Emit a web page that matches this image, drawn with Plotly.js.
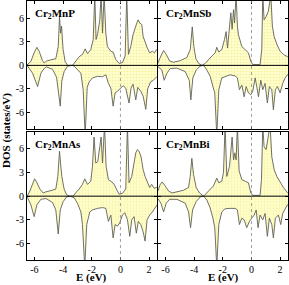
<!DOCTYPE html>
<html><head><meta charset="utf-8">
<script src="https://cdn.plot.ly/plotly-3.0.1.min.js"></script>
<style>html,body{margin:0;padding:0;background:#fff}#c{width:289px;height:285px}</style>
</head><body><div id="c"></div>
<script>
const panelNames = ["Cr<sub>2</sub>MnP","Cr<sub>2</sub>MnSb","Cr<sub>2</sub>MnAs","Cr<sub>2</sub>MnBi"];
const xTickVals = [-6,-4,-2,0,2];
const xTickText = ["-6","-4","-2","0","2"];
const yTickVals = [-6,-3,0,3,6];
const yTickText = ["-6","-3","0","3","6"];

// Cr2MnP
const E_P_up = [-6.55,-6.48,-6.25,-6.02,-5.83,-5.67,-5.44,-5.32,-5.16,-4.85,-4.51,-4.34,-4.25,-4.18,-4.11,-4.00,-3.86,-3.69,-3.34,-3.11,-2.88,-2.65,-2.46,-2.30,-2.07,-1.90,-1.79,-1.70,-1.58,-1.44,-1.35,-1.25,-1.14,-1.02,-0.91,-0.67,-0.51,-0.33,-0.09,0.14,0.33,0.44,0.56,0.72,0.88,1.07,1.23,1.35,1.49,1.58,1.72,1.88,2.04,2.23,2.37,2.51,2.6];
const D_P_up = [0,0.1,0.5,1.6,2.3,1.8,0.6,0.3,0.55,0.7,0.85,2.4,6.2,4.1,5.0,2.0,0.5,0,0,0.55,1.1,1.4,2.1,1.5,2.0,3.3,9,3.3,4.1,5.8,9,4.1,9,4.1,2.4,1.8,1.7,0.75,0.25,0.35,1.2,9,1.4,2.4,3.9,5.0,5.8,5.4,5.2,3.7,2.9,2.2,1.6,1.8,1.6,2.0,1.8];
const E_P_dn = [-6.55,-6.48,-6.13,-5.78,-5.55,-5.32,-5.16,-4.74,-4.46,-4.20,-4.09,-3.93,-3.69,-3.34,-3.23,-3.00,-2.76,-2.60,-2.46,-2.32,-2.18,-1.95,-1.60,-1.25,-1.02,-0.84,-0.67,-0.51,-0.37,-0.21,0.02,0.19,0.37,0.60,0.74,0.88,1.07,1.21,1.42,1.58,1.77,1.90,2.11,2.30,2.51,2.6];
const D_P_dn = [0,-0.1,-1.0,-2.7,-1.0,-0.4,-0.2,-0.5,-1.5,-5.2,-2.0,-0.8,-0.1,0,-0.1,-0.5,-1.0,-3.1,-9,-2.8,-2.1,-1.6,-1.4,-1.45,-1.2,-2.3,-2.9,-5.2,-3.5,-3.3,-2.9,-2.6,-2.9,-4.8,-2.9,-2.4,-4.4,-2.8,-3.3,-3.9,-5.6,-3.0,-2.1,-1.9,-1.5,-1.4];

// Cr2MnSb
const E_Sb_up = [-6.55,-6.53,-6.32,-6.13,-5.95,-5.71,-5.44,-4.97,-4.51,-4.27,-4.13,-4.02,-3.88,-3.69,-3.46,-3.23,-3.00,-2.76,-2.53,-2.42,-2.28,-2.07,-1.88,-1.77,-1.67,-1.53,-1.44,-1.35,-1.25,-1.18,-1.07,-0.98,-0.91,-0.67,-0.44,-0.21,-0.05,0.09,0.60,0.72,0.79,0.88,1.02,1.18,1.35,1.46,1.58,1.77,2.00,2.23,2.51,2.6];
const D_Sb_up = [0.2,0.3,1.2,1.9,1.4,0.55,0.4,0.6,1.0,2.0,4.9,2.4,0.85,0.25,0,0.25,0.75,1.2,1.6,2.3,1.7,2.0,3.3,4.3,2.2,4.6,6.7,4.6,7.1,5.4,9,5.0,3.9,2.4,2.0,1.6,0.55,0.1,0.1,2.0,9,5.8,6.2,6.9,9,5.0,3.7,2.7,1.8,1.4,1.1,1.0];
const E_Sb_dn = [-6.55,-6.53,-6.25,-6.09,-5.90,-5.67,-5.20,-4.62,-4.34,-4.23,-4.09,-3.86,-3.58,-3.34,-3.11,-2.88,-2.69,-2.56,-2.42,-2.28,-2.07,-1.84,-1.49,-1.14,-0.98,-0.84,-0.67,-0.51,-0.37,-0.21,-0.05,0.09,0.26,0.37,0.49,0.65,0.79,0.95,1.11,1.25,1.42,1.53,1.67,1.81,2.00,2.18,2.35,2.51,2.6];
const D_Sb_dn = [-0.1,-0.15,-0.6,-1.9,-1.0,-0.4,-0.35,-0.8,-1.9,-4.4,-1.6,-0.6,-0.1,0,-0.6,-1.4,-2.7,-3.5,-9,-3.1,-1.6,-1.4,-1.2,-1.35,-1.6,-3.1,-2.5,-4.0,-2.7,-3.5,-3.75,-3.3,-1.6,-2.7,-4.0,-1.9,-3.1,-2.3,-4.8,-2.7,-3.1,-5.65,-3.1,-2.7,-3.5,-2.3,-1.6,-1.2,-1.1];

// Cr2MnAs
const E_As_up = [-6.55,-6.48,-6.32,-6.13,-5.99,-5.85,-5.62,-5.39,-5.20,-4.85,-4.51,-4.37,-4.25,-4.18,-4.09,-3.93,-3.76,-3.58,-3.30,-3.11,-2.88,-2.65,-2.49,-2.30,-2.07,-1.95,-1.84,-1.72,-1.58,-1.44,-1.35,-1.25,-1.11,-1.00,-0.84,-0.60,-0.44,-0.28,-0.09,0.14,0.37,0.49,0.60,0.79,0.95,1.07,1.18,1.30,1.44,1.58,1.72,1.88,2.04,2.18,2.35,2.51,2.6];
const D_As_up = [0,0.1,0.65,1.7,2.2,1.8,0.9,0.4,0.55,0.7,0.9,2.5,5.7,4.2,2.5,0.9,0.2,0,0,0.45,0.9,1.5,2.2,1.5,1.9,3.8,7.5,4.2,4.4,6.3,7.5,4.2,9,3.8,2.1,1.8,1.5,0.9,0.25,0.35,0.9,9,1.7,2.5,4.4,5.5,5.9,5.7,5.0,3.4,2.5,1.7,1.1,1.5,1.0,1.1,1.2];
const E_As_dn = [-6.55,-6.48,-6.25,-6.02,-5.83,-5.55,-5.20,-4.74,-4.51,-4.34,-4.20,-4.00,-3.76,-3.53,-3.23,-3.00,-2.76,-2.65,-2.49,-2.35,-2.14,-1.95,-1.60,-1.25,-1.02,-0.84,-0.67,-0.51,-0.37,-0.21,-0.05,0.14,0.30,0.49,0.65,0.79,0.95,1.11,1.25,1.42,1.58,1.72,1.86,2.04,2.23,2.37,2.51,2.6];
const D_As_dn = [0,-0.2,-1.1,-2.6,-1.1,-0.4,-0.3,-0.8,-1.75,-4.8,-1.75,-0.7,-0.1,0,-0.2,-0.9,-2.0,-3.6,-9,-3.6,-2.0,-1.75,-1.55,-1.45,-1.55,-3.2,-2.4,-5.3,-3.6,-3.8,-3.4,-2.4,-2.1,-3.0,-5.1,-3.0,-2.6,-4.7,-3.2,-3.6,-4.5,-5.7,-3.0,-2.4,-2.0,-1.55,-1.1,-1.0];

// Cr2MnBi
const E_Bi_up = [-6.55,-6.53,-6.36,-6.23,-6.02,-5.78,-5.55,-5.20,-4.74,-4.39,-4.27,-4.16,-4.04,-3.86,-3.62,-3.34,-3.11,-2.88,-2.65,-2.42,-2.28,-2.07,-1.95,-1.84,-1.72,-1.53,-1.44,-1.35,-1.25,-1.16,-1.07,-0.98,-0.86,-0.67,-0.44,-0.21,-0.05,0.09,0.60,0.70,0.79,0.88,1.02,1.16,1.30,1.42,1.58,1.77,2.00,2.23,2.51,2.6];
const D_Bi_up = [0.6,0.65,1.5,1.8,1.3,0.65,0.4,0.55,0.75,1.1,2.5,4.8,2.75,1.1,0.4,0,0.4,0.9,1.3,2.3,1.7,1.9,3.0,9,2.5,3.8,5.9,7.5,4.6,5.5,4.6,9,3.2,2.1,1.9,1.7,0.45,0.1,0.1,2.1,9,6.3,5.9,7.5,9,5.0,3.4,2.5,1.7,1.1,0.45,0.4];
const E_Bi_dn = [-6.55,-6.53,-6.32,-6.13,-5.95,-5.71,-5.20,-4.62,-4.39,-4.25,-4.11,-3.86,-3.58,-3.34,-3.11,-2.88,-2.69,-2.56,-2.42,-2.28,-2.07,-1.84,-1.49,-1.14,-0.98,-0.84,-0.67,-0.51,-0.33,-0.14,0.02,0.19,0.33,0.46,0.60,0.79,0.95,1.11,1.25,1.42,1.53,1.67,1.88,2.04,2.18,2.35,2.51,2.6];
const D_Bi_dn = [-0.3,-0.3,-0.9,-2.0,-0.9,-0.4,-0.4,-0.9,-2.0,-4.0,-1.75,-0.7,-0.1,0,-0.5,-1.5,-2.8,-4.0,-9,-3.6,-2.0,-1.6,-1.55,-1.55,-1.75,-3.6,-2.8,-3.0,-4.0,-3.2,-2.8,-2.4,-1.75,-4.0,-2.4,-3.0,-2.2,-5.1,-2.8,-3.6,-5.3,-2.8,-2.4,-3.6,-2.2,-1.55,-1.1,-1.0];

const series = [
  [E_P_up, D_P_up, E_P_dn, D_P_dn],
  [E_Sb_up, D_Sb_up, E_Sb_dn, D_Sb_dn],
  [E_As_up, D_As_up, E_As_dn, D_As_dn],
  [E_Bi_up, D_Bi_up, E_Bi_dn, D_Bi_dn]
];

const lineCol = '#606058';
const fillPat = {shape: '.', bgcolor: '#ffffcc', fgcolor: '#f4ee9c', size: 3, solidity: 0.25};
const traces = [];
series.forEach((s, i) => {
  const xa = 'x' + (i === 0 ? '' : (i + 1));
  const ya = 'y' + (i === 0 ? '' : (i + 1));
  [[s[0], s[1]], [s[2], s[3]]].forEach(p => {
    traces.push({
      x: p[0], y: p[1], xaxis: xa, yaxis: ya, type: 'scatter', mode: 'lines',
      line: {color: lineCol, width: 0.9}, fill: 'tozeroy', fillcolor: '#ffffcc',
      fillpattern: fillPat, hoverinfo: 'skip', showlegend: false
    });
  });
});

const font = {family: 'Liberation Serif, Times New Roman, serif', size: 11, color: '#000'};
const tickFont = {family: font.family, size: 10, color: '#000'};
const xDom = [[0, 0.498], [0.502, 1], [0, 0.498], [0.502, 1]];
const yDom = [[0.506, 1], [0.506, 1], [0, 0.496], [0, 0.496]];
const layout = {
  width: 289, height: 285,
  margin: {l: 27, r: 1, t: 1, b: 25},
  paper_bgcolor: '#fff', plot_bgcolor: '#fff',
  font: font, showlegend: false,
  shapes: [], annotations: []
};
for (let i = 0; i < 4; i++) {
  const sfx = i === 0 ? '' : (i + 1);
  layout['xaxis' + sfx] = {
    domain: xDom[i], range: [-6.52, 2.55], anchor: 'y' + sfx,
    tickmode: 'array', tickvals: xTickVals, ticktext: xTickText,
    showticklabels: i >= 2, ticks: 'inside', ticklen: 3, tickcolor: '#000',
    showline: true, linecolor: '#000', linewidth: 1, mirror: 'ticks',
    showgrid: false, zeroline: false, tickfont: tickFont, fixedrange: true
  };
  layout['yaxis' + sfx] = {
    domain: yDom[i], range: [-8.1, 8.2], anchor: 'x' + sfx,
    tickmode: 'array', tickvals: yTickVals, ticktext: yTickText,
    showticklabels: i % 2 === 0, ticks: 'inside', ticklen: 3, tickcolor: '#000',
    showline: true, linecolor: '#000', linewidth: 1, mirror: 'ticks',
    showgrid: false, zeroline: false, tickfont: tickFont, fixedrange: true
  };
  layout.shapes.push({type: 'line', xref: 'x' + sfx + ' domain', yref: 'y' + sfx,
    x0: 0, x1: 1, y0: 0, y1: 0, line: {color: '#000', width: 1}, layer: 'above'});
  layout.shapes.push({type: 'line', xref: 'x' + sfx, yref: 'y' + sfx + ' domain',
    x0: 0, x1: 0, y0: 0, y1: 1, line: {color: '#888', width: 0.8, dash: 'dot'}, layer: 'above'});
  layout.annotations.push({xref: 'x' + sfx + ' domain', yref: 'y' + sfx + ' domain',
    x: 0.045, y: 0.965, xanchor: 'left', yanchor: 'top', showarrow: false,
    text: '<b>' + panelNames[i] + '</b>', font: {family: font.family, size: 11, color: '#000'}});
}
layout.annotations.push({xref: 'paper', yref: 'paper', x: -0.079, y: 0.5, xanchor: 'center', yanchor: 'middle',
  textangle: -90, showarrow: false, text: '<b>DOS (states/eV)</b>', font: {family: font.family, size: 11, color: '#000'}});
layout.annotations.push({xref: 'x3 domain', yref: 'paper', x: 0.5, y: -0.0965, xanchor: 'center', yanchor: 'bottom',
  borderpad: 0, showarrow: false, text: '<b>E (eV)</b>', font: {family: font.family, size: 11, color: '#000'}});
layout.annotations.push({xref: 'x4 domain', yref: 'paper', x: 0.5, y: -0.0965, xanchor: 'center', yanchor: 'bottom',
  borderpad: 0, showarrow: false, text: '<b>E (eV)</b>', font: {family: font.family, size: 11, color: '#000'}});

Plotly.newPlot('c', traces, layout, {displayModeBar: false, staticPlot: true});
</script></body></html>
